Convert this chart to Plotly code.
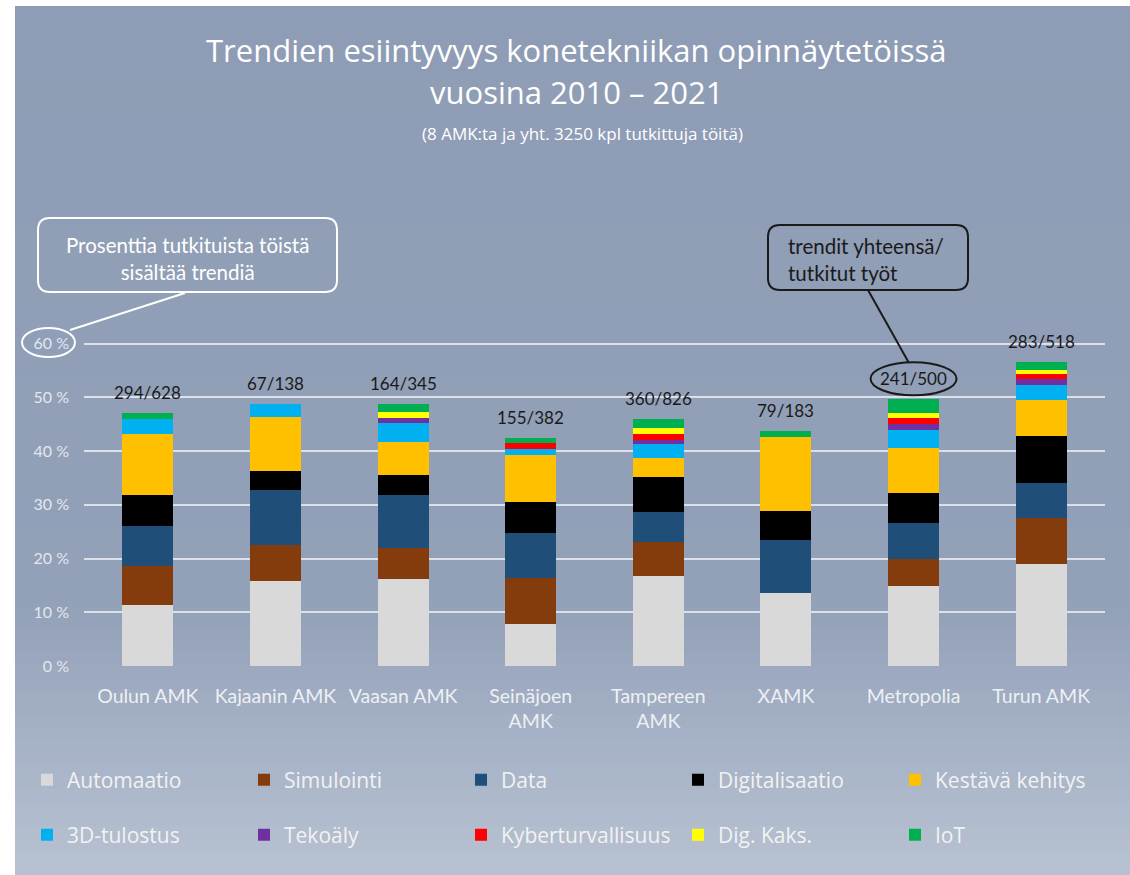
import plotly.graph_objects as go

# ---------------- data ----------------
categories = ["Oulun AMK", "Kajaanin AMK", "Vaasan AMK", "Seinäjoen<br>AMK",
              "Tampereen<br>AMK", "XAMK", "Metropolia", "Turun AMK"]

series_names = ["Automaatio", "Simulointi", "Data", "Digitalisaatio", "Kestävä kehitys",
                "3D-tulostus", "Tekoäly", "Kyberturvallisuus", "Dig. Kaks.", "IoT"]

automaatio = [11.3, 15.9, 16.2, 7.8, 16.8, 13.6, 14.9, 18.9]
simulointi = [7.4, 6.6, 5.8, 8.6, 6.3, 0.0, 5.1, 8.7]
data_ = [7.35, 10.3, 9.8, 8.3, 5.6, 9.95, 6.55, 6.5]
digitalisaatio = [5.8, 3.5, 3.85, 5.75, 6.55, 5.4, 5.6, 8.7]
kestava = [11.35, 10.15, 6.1, 8.85, 3.45, 13.6, 8.35, 6.7]
tulostus3d = [2.8, 2.25, 3.5, 1.1, 2.6, 0.0, 3.35, 2.9]
tekoaly = [0.0, 0.0, 0.95, 0.0, 0.75, 0.0, 1.25, 0.95]
kyber = [0.0, 0.0, 0.0, 1.05, 1.2, 0.0, 1.1, 1.05]
digkaks = [0.0, 0.0, 1.05, 0.0, 1.0, 0.0, 0.95, 0.8]
iot = [1.05, 0.0, 1.55, 1.0, 1.75, 1.25, 2.5, 1.35]

series_colors = ["#D9D9D9", "#843C0C", "#1F4E79", "#000000", "#FFC000",
                 "#00B0F0", "#7030A0", "#FF0000", "#FFFF00", "#00B050"]

trendit = [294, 67, 164, 155, 360, 79, 241, 283]
tutkitut = [628, 138, 345, 382, 826, 183, 500, 518]

y_tick_vals = [0, 10, 20, 30, 40, 50, 60]
y_tick_text = ["0 %", "10 %", "20 %", "30 %", "40 %", "50 %", "60 %"]

# ---------------- layout geometry ----------------
FONT = "Lato, 'Open Sans', sans-serif"
FONT2 = "'Open Sans', Lato, sans-serif"
OFF = 0                       # body margin removed via post_script
FIG_W, FIG_H = 1130, 875
L, T, PW, PH = 84, 333, 1021, 333
YMAX = 62


def px(x):  # screen pixel -> paper x
    return (x - OFF - L) / PW


def py(y):  # screen pixel -> paper y
    return (T + PH - (y - OFF)) / PH


def rounded_rect_path(x0, y0, x1, y1, r):
    def P(x, y):
        return f"{px(x):.5f},{py(y):.5f}"
    return (f"M {P(x0 + r, y0)} L {P(x1 - r, y0)} Q {P(x1, y0)} {P(x1, y0 + r)} "
            f"L {P(x1, y1 - r)} Q {P(x1, y1)} {P(x1 - r, y1)} "
            f"L {P(x0 + r, y1)} Q {P(x0, y1)} {P(x0, y1 - r)} "
            f"L {P(x0, y0 + r)} Q {P(x0, y0)} {P(x0 + r, y0)} Z")


series = [automaatio, simulointi, data_, digitalisaatio, kestava,
          tulostus3d, tekoaly, kyber, digkaks, iot]

fig = go.Figure()
for i, (name, vals, col) in enumerate(zip(series_names, series, series_colors)):
    fig.add_trace(go.Bar(
        x=categories, y=vals, name=name,
        marker=dict(color=col, line=dict(width=0)),
        legend="legend" if i < 5 else "legend2",
    ))

totals = [sum(s[k] for s in series) for k in range(len(categories))]

annotations = []
for k, cat in enumerate(categories):
    annotations.append(dict(
        x=cat, y=totals[k], xref="x", yref="y", yanchor="bottom", yshift=8,
        text=f"{trendit[k]}/{tutkitut[k]}", showarrow=False,
        font=dict(family=FONT, size=17, color="#1a1a1a"),
    ))

annotations += [
    dict(x=px(576), y=py(50), xref="paper", yref="paper", showarrow=False,
         xanchor="center", yanchor="middle",
         text="Trendien esiintyvyys konetekniikan opinnäytetöissä",
         font=dict(family=FONT2, size=31, color="white")),
    dict(x=px(576), y=py(92), xref="paper", yref="paper", showarrow=False,
         xanchor="center", yanchor="middle",
         text="vuosina 2010 – 2021",
         font=dict(family=FONT2, size=31, color="white")),
    dict(x=px(582), y=py(133), xref="paper", yref="paper", showarrow=False,
         xanchor="center", yanchor="middle",
         text="(8 AMK:ta ja yht. 3250 kpl tutkittuja töitä)",
         font=dict(family=FONT2, size=17, color="white")),
    dict(x=px(187), y=py(258), xref="paper", yref="paper", showarrow=False,
         xanchor="center", yanchor="middle", align="center",
         text="Prosenttia tutkituista töistä<br>sisältää trendiä",
         font=dict(family=FONT, size=20.5, color="white")),
    dict(x=px(786), y=py(259), xref="paper", yref="paper", showarrow=False,
         xanchor="left", yanchor="middle", align="left",
         text="trendit yhteensä/<br>tutkitut työt",
         font=dict(family=FONT, size=20.5, color="#1a1a1a")),
]

shapes = []
# background gradient
top_c = (142, 156, 181)
mid_c = (146, 160, 184)
bot_c = (184, 194, 210)
y_start, y_mid, y_end = 6, 600, 876
N = 70
for k in range(N):
    y0 = y_start + (y_end - y_start) * k / N
    y1 = y_start + (y_end - y_start) * (k + 1) / N
    yc = (y0 + y1) / 2
    if yc < y_mid:
        t = (yc - y_start) / (y_mid - y_start)
        c = [a + (b - a) * t for a, b in zip(top_c, mid_c)]
    else:
        t = (yc - y_mid) / (y_end - y_mid)
        c = [a + (b - a) * t for a, b in zip(mid_c, bot_c)]
    shapes.append(dict(
        type="rect", xref="paper", yref="paper", layer="below",
        x0=px(15), x1=px(1135), y0=py(min(y1 + 1, y_end)), y1=py(y0),
        fillcolor="rgb(%d,%d,%d)" % tuple(round(v) for v in c), line=dict(width=0),
    ))

# callout 1 (white)
shapes.append(dict(type="path", xref="paper", yref="paper", layer="above",
                   path=rounded_rect_path(38, 218, 337, 292, 12),
                   line=dict(color="white", width=2)))
shapes.append(dict(type="line", xref="paper", yref="paper", layer="above",
                   x0=px(185), y0=py(293), x1=px(70), y1=py(330),
                   line=dict(color="white", width=2)))
shapes.append(dict(type="circle", xref="paper", yref="paper", layer="above",
                   x0=px(22), x1=px(75), y0=py(357), y1=py(328),
                   line=dict(color="white", width=2)))

# callout 2 (dark)
shapes.append(dict(type="path", xref="paper", yref="paper", layer="above",
                   path=rounded_rect_path(768, 225, 968, 290, 12),
                   line=dict(color="#1a1a1a", width=2)))
mi = categories.index("Metropolia")
band = PW / len(categories)
m_cx = OFF + L + band * (mi + 0.5)
m_cy = OFF + T + PH - totals[mi] * PH / YMAX - 8 - 12
shapes.append(dict(type="circle", xref="paper", yref="paper", layer="above",
                   x0=px(m_cx - 43), x1=px(m_cx + 43), y0=py(m_cy + 16), y1=py(m_cy - 17),
                   line=dict(color="#1a1a1a", width=2)))
shapes.append(dict(type="line", xref="paper", yref="paper", layer="above",
                   x0=px(868), y0=py(290), x1=px(m_cx - 5), y1=py(m_cy - 17),
                   line=dict(color="#1a1a1a", width=2)))

legend_common = dict(
    orientation="h", xanchor="left", yanchor="middle",
    bgcolor="rgba(0,0,0,0)", borderwidth=0,
    font=dict(family=FONT2, size=21, color="#F2F2F2"),
    entrywidth=172, entrywidthmode="pixels", traceorder="normal",
)

fig.update_layout(
    width=FIG_W, height=FIG_H,
    margin=dict(l=L, r=FIG_W - L - PW, t=T, b=FIG_H - T - PH, autoexpand=False),
    paper_bgcolor="white", plot_bgcolor="rgba(0,0,0,0)",
    barmode="stack", bargap=0.6,
    showlegend=True,
    legend=dict(x=px(27), y=py(780), **legend_common),
    legend2=dict(x=px(27), y=py(835), **legend_common),
    xaxis=dict(
        showgrid=False, zeroline=False, showline=False, ticks="",
        tickfont=dict(family=FONT, size=19.5, color="#EEF0F4"),
        ticklabelstandoff=16,
    ),
    yaxis=dict(
        range=[0, YMAX], tickvals=y_tick_vals, ticktext=y_tick_text,
        showgrid=True, gridcolor="#DCE0E8", gridwidth=2,
        zeroline=False, showline=False, ticks="",
        tickfont=dict(family=FONT, size=16, color="#E4E7EE"),
        ticklabelstandoff=14,
    ),
    annotations=annotations,
    shapes=shapes,
)

fig.write_html(
    "out.html",
    config={"displayModeBar": False},
    post_script="document.body.style.margin='0';"
                "document.documentElement.style.overflow='hidden';",
)
